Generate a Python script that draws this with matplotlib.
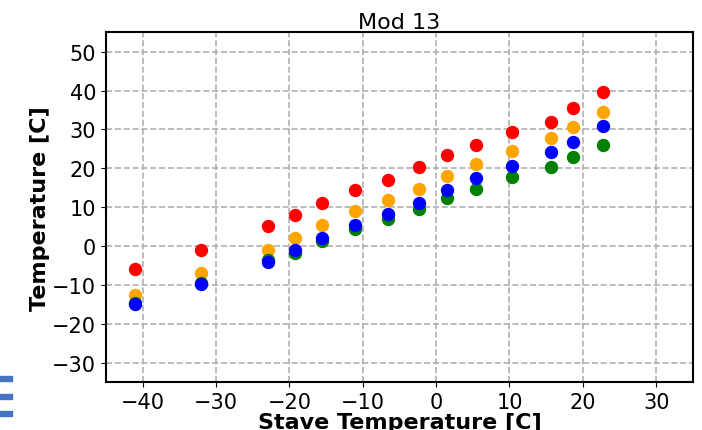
import matplotlib
matplotlib.use('Agg')
import matplotlib.pyplot as plt
from matplotlib.patches import Rectangle

# Stave temperature points
stave_t = [-41.0, -32.0, -22.9, -19.2, -15.5, -11.0, -6.5, -2.3, 1.5, 5.5, 10.4, 15.7, 18.7, 22.7]

# module temperatures
t_green = [-14.6, -9.5, -3.6, -1.7, 1.3, 4.5, 6.9, 9.5, 12.3, 14.8, 17.7, 20.4, 22.8, 26.0]
t_blue = [-15.0, -9.7, -4.0, -1.0, 2.1, 5.3, 8.2, 11.2, 14.4, 17.4, 20.6, 24.1, 26.8, 30.9]
t_orange = [-12.7, -7.0, -1.0, 2.0, 5.3, 9.1, 11.8, 14.8, 18.0, 21.1, 24.5, 27.8, 30.5, 34.4]
t_red = [-6.0, -1.0, 5.2, 7.9, 11.2, 14.4, 16.9, 20.4, 23.4, 26.0, 29.3, 31.9, 35.4, 39.5]

series = [(t_red, 'red'), (t_orange, 'orange'), (t_green, 'green'), (t_blue, 'blue')]

fig = plt.figure(figsize=(7.02, 4.31), dpi=100)
ax = fig.add_axes([0.151, 0.111, 0.836, 0.812])

for vals, col in series:
    ax.plot(stave_t, vals, 'o', color=col, markersize=8.6, linestyle='none')

ax.set_xlim(-45, 35)
ax.set_ylim(-35, 55)
ax.set_xticks(range(-40, 31, 10))
ax.set_yticks(range(-30, 51, 10))
ax.grid(True, linestyle='--', color='#b0b0b0', linewidth=1.2)
ax.set_axisbelow(True)
ax.tick_params(labelsize=15)
for sp in ax.spines.values():
    sp.set_linewidth(1.5)

ax.set_title('Mod 13', fontsize=16, pad=3)
ax.set_xlabel('Stave Temperature [C]', fontsize=16, fontweight='bold', labelpad=0)
ax.set_ylabel('Temperature [C]', fontsize=16, fontweight='bold', labelpad=2)

# leftover bits of a neighbouring legend at the left edge
for y0 in [377, 395, 412]:
    fig.patches.append(Rectangle((0, (431 - y0 - 5) / 431), 12 / 702, 5 / 431,
                                 transform=fig.transFigure, color='#4472c4'))

fig.savefig('out.png', dpi=100)
